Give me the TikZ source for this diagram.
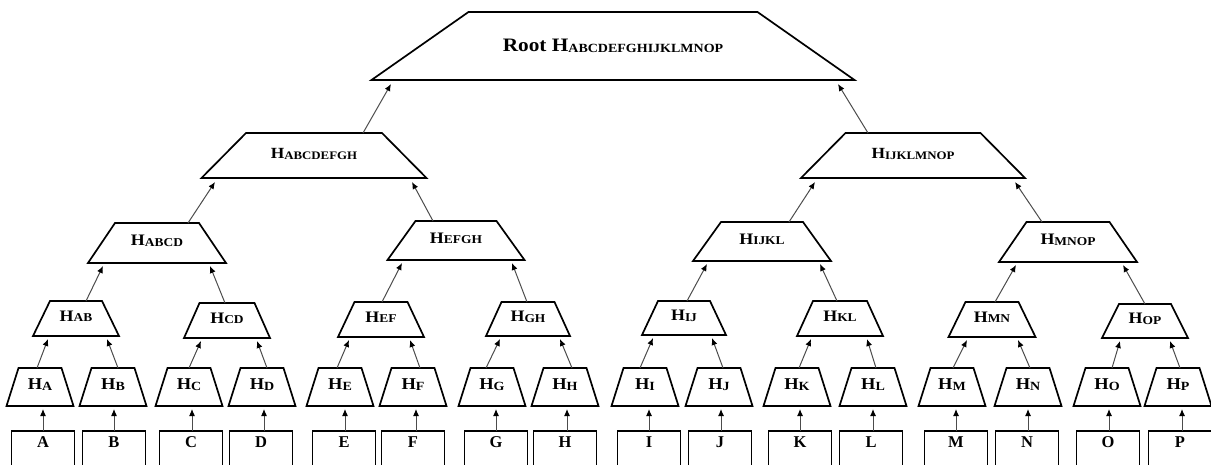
\documentclass[tikz,border=0pt]{standalone}
\usepackage{fontspec}
\setmainfont{Liberation Serif}
\usepackage{graphicx}
\usetikzlibrary{arrows.meta}
\newcommand\hlab[3]{\scalebox{1.12}[1]{\bfseries\fontsize{#2}{#2}\selectfont H\raisebox{-0.6pt}{\fontsize{#3}{#3}\selectfont #1}}}
\newcommand\trap[8][]{%
  \pgfmathsetmacro\qa{#3-#6/2}\pgfmathsetmacro\qb{#3+#6/2}%
  \pgfmathsetmacro\qc{#3-#7/2}\pgfmathsetmacro\qd{#3+#7/2}%
  \pgfmathsetmacro\qm{(#4+#5)/2}\pgfmathsetmacro\qh{#5-#4}%
  \draw[trapline] (\qc,#5) -- (\qd,#5) -- (\qb,#4) -- (\qa,#4) -- cycle;
  \node[tnode, minimum width=#7 pt, minimum height=\qh pt, #1] (#2) at (#3,\qm) {#8};}
\begin{document}
\begin{tikzpicture}[x=1pt,y=-1pt,
  trapline/.style={draw=black, line width=1.7pt, line join=miter},
  tnode/.style={inner sep=0pt, outer sep=0pt, text height=11pt, text depth=6pt, font=\bfseries},
  box/.style={draw=black, line width=1.7pt, minimum width=63pt, minimum height=36pt, anchor=north,
    inner sep=0pt, outer sep=0pt, text height=11pt, text depth=14pt,
    font=\bfseries\fontsize{16.5}{16.5}\selectfont},
  conn/.style={draw=black!70, line width=1pt, -{Latex[length=7pt,width=6pt,color=black]}}]
\useasboundingbox (0,0) rectangle (1211,464);
\clip (0,0) rectangle (1211,464);

% root
\trap[text height=13pt, text depth=2pt]{root}{613}{12}{80}{289}{483}{\scalebox{1.12}[1]{\bfseries\fontsize{19}{19}\selectfont Root H\raisebox{-0.6pt}{\fontsize{12.5}{12.5}\selectfont ABCDEFGHIJKLMNOP}}}
% level 2
\trap[text depth=5pt]{h2a}{314}{133}{178}{136}{225}{\hlab{ABCDEFGH}{15.5}{11.5}}
\trap[text depth=5pt]{h2b}{913}{133}{178}{135}{224}{\hlab{IJKLMNOP}{15.5}{11.5}}
% level 3
\trap{habcd}{157}{223}{263}{84}{138}{\hlab{ABCD}{16}{12}}
\trap{hefgh}{456}{221}{260}{81}{137}{\hlab{EFGH}{16}{12}}
\trap{hijkl}{762}{222}{261}{82}{138}{\hlab{IJKL}{16}{12}}
\trap{hmnop}{1068}{222}{262}{83}{138}{\hlab{MNOP}{16}{12}}
% level 4
\trap{hab}{76}{301}{336}{52}{86}{\hlab{AB}{16}{12}}
\trap{hcd}{227}{303}{338}{55}{86}{\hlab{CD}{16}{12}}
\trap{hef}{381}{302}{337}{53}{86}{\hlab{EF}{16}{12}}
\trap{hgh}{528}{302}{336}{53}{84}{\hlab{GH}{16}{12}}
\trap{hij}{684}{301}{335}{52}{84}{\hlab{IJ}{16}{12}}
\trap{hkl}{840}{301}{336}{54}{86}{\hlab{KL}{16}{12}}
\trap{hmn}{992}{302}{337}{53}{87}{\hlab{MN}{16}{12}}
\trap{hop}{1145}{304}{338}{52}{86}{\hlab{OP}{16}{12}}
% leaf hashes
\trap{ha}{40}{368}{406}{43}{67}{\hlab{A}{16.5}{12.5}}
\trap{hb}{113}{368}{406}{43}{67}{\hlab{B}{16.5}{12.5}}
\trap{hc}{189}{368}{406}{43}{67}{\hlab{C}{16.5}{12.5}}
\trap{hd}{262}{368}{406}{43}{67}{\hlab{D}{16.5}{12.5}}
\trap{he}{340}{368}{406}{43}{67}{\hlab{E}{16.5}{12.5}}
\trap{hf}{413}{368}{406}{43}{67}{\hlab{F}{16.5}{12.5}}
\trap{hg}{492}{368}{406}{43}{67}{\hlab{G}{16.5}{12.5}}
\trap{hh}{565}{368}{406}{43}{67}{\hlab{H}{16.5}{12.5}}
\trap{hi}{645}{368}{406}{43}{67}{\hlab{I}{16.5}{12.5}}
\trap{hj}{719}{368}{406}{43}{67}{\hlab{J}{16.5}{12.5}}
\trap{hk}{797}{368}{406}{43}{67}{\hlab{K}{16.5}{12.5}}
\trap{hl}{873}{368}{406}{43}{67}{\hlab{L}{16.5}{12.5}}
\trap{hm}{952}{368}{406}{43}{67}{\hlab{M}{16.5}{12.5}}
\trap{hn}{1028}{368}{406}{43}{67}{\hlab{N}{16.5}{12.5}}
\trap{ho}{1107}{368}{406}{43}{67}{\hlab{O}{16.5}{12.5}}
\trap{hp}{1178}{368}{406}{43}{67}{\hlab{P}{16.5}{12.5}}

% data blocks
\node[box] (bA) at (43,431) {A};
\node[box] (bB) at (114,431) {B};
\node[box] (bC) at (191,431) {C};
\node[box] (bD) at (261,431) {D};
\node[box] (bE) at (344,431) {E};
\node[box] (bF) at (413,431) {F};
\node[box] (bG) at (496,431) {G};
\node[box] (bH) at (565,431) {H};
\node[box] (bI) at (649,431) {I};
\node[box] (bJ) at (720,431) {J};
\node[box] (bK) at (800,431) {K};
\node[box] (bL) at (871,431) {L};
\node[box] (bM) at (956,431) {M};
\node[box] (bN) at (1027,431) {N};
\node[box] (bO) at (1108,431) {O};
\node[box] (bP) at (1180,431) {P};

% connectors: data -> leaf hash
\draw[conn] (bA.north) -- ([xshift=3pt,yshift=-3pt]ha.south);
\draw[conn] (bB.north) -- ([xshift=1pt,yshift=-3pt]hb.south);
\draw[conn] ([xshift=1pt]bC.north) -- ([xshift=3pt,yshift=-3pt]hc.south);
\draw[conn] ([xshift=3pt]bD.north) -- ([xshift=2pt,yshift=-3pt]hd.south);
\draw[conn] ([xshift=1pt]bE.north) -- ([xshift=5pt,yshift=-3pt]he.south);
\draw[conn] ([xshift=3pt]bF.north) -- ([xshift=3pt,yshift=-3pt]hf.south);
\draw[conn] (bG.north) -- ([xshift=4pt,yshift=-3pt]hg.south);
\draw[conn] ([xshift=2pt]bH.north) -- ([xshift=2pt,yshift=-3pt]hh.south);
\draw[conn] (bI.north) -- ([xshift=4pt,yshift=-3pt]hi.south);
\draw[conn] ([xshift=1pt]bJ.north) -- ([xshift=2pt,yshift=-3pt]hj.south);
\draw[conn] (bK.north) -- ([xshift=3pt,yshift=-3pt]hk.south);
\draw[conn] ([xshift=2pt]bL.north) -- ([yshift=-3pt]hl.south);
\draw[conn] (bM.north) -- ([xshift=4pt,yshift=-3pt]hm.south);
\draw[conn] ([xshift=1pt]bN.north) -- ([yshift=-3pt]hn.south);
\draw[conn] ([xshift=1pt]bO.north) -- ([xshift=2pt,yshift=-3pt]ho.south);
\draw[conn] ([xshift=2pt]bP.north) -- ([xshift=4pt,yshift=-3pt]hp.south);

% leaf hash -> pair hash
\draw[conn] ([xshift=-3pt]ha.north) -- ([xshift=-28pt,yshift=-3pt]hab.south);
\draw[conn] ([xshift=5pt]hb.north) -- ([xshift=31pt,yshift=-3pt]hab.south);
\draw[conn] (hc.north) -- ([xshift=-26pt,yshift=-3pt]hcd.south);
\draw[conn] ([xshift=5pt]hd.north) -- ([xshift=30pt,yshift=-3pt]hcd.south);
\draw[conn] ([xshift=-3pt]he.north) -- ([xshift=-32pt,yshift=-3pt]hef.south);
\draw[conn] ([xshift=7pt]hf.north) -- ([xshift=29pt,yshift=-3pt]hef.south);
\draw[conn] ([xshift=-6pt]hg.north) -- ([xshift=-28pt,yshift=-3pt]hgh.south);
\draw[conn] ([xshift=7pt]hh.north) -- ([xshift=32pt,yshift=-3pt]hgh.south);
\draw[conn] ([xshift=-5pt]hi.north) -- ([xshift=-31pt,yshift=-3pt]hij.south);
\draw[conn] ([xshift=4pt]hj.north) -- ([xshift=28pt,yshift=-3pt]hij.south);
\draw[conn] ([xshift=2pt]hk.north) -- ([xshift=-29pt,yshift=-3pt]hkl.south);
\draw[conn] ([xshift=3pt]hl.north) -- ([xshift=27pt,yshift=-3pt]hkl.south);
\draw[conn] ([xshift=1pt]hm.north) -- ([xshift=-25pt,yshift=-3pt]hmn.south);
\draw[conn] ([xshift=2pt]hn.north) -- ([xshift=26pt,yshift=-3pt]hmn.south);
\draw[conn] ([xshift=5pt]ho.north) -- ([xshift=-25pt,yshift=-3pt]hop.south);
\draw[conn] ([xshift=2pt]hp.north) -- ([xshift=25pt,yshift=-3pt]hop.south);

% pair -> quad
\draw[conn] ([xshift=10pt]hab.north) -- ([xshift=-54pt,yshift=-3pt]habcd.south);
\draw[conn] ([xshift=-2pt]hcd.north) -- ([xshift=53pt,yshift=-3pt]habcd.south);
\draw[conn] ([xshift=1pt]hef.north) -- ([xshift=-54pt,yshift=-3pt]hefgh.south);
\draw[conn] ([xshift=-1pt]hgh.north) -- ([xshift=56pt,yshift=-3pt]hefgh.south);
\draw[conn] ([xshift=3pt]hij.north) -- ([xshift=-55pt,yshift=-3pt]hijkl.south);
\draw[conn] ([xshift=-3pt]hkl.north) -- ([xshift=58pt,yshift=-3pt]hijkl.south);
\draw[conn] ([xshift=3pt]hmn.north) -- ([xshift=-52pt,yshift=-3pt]hmnop.south);
\draw[conn] (hop.north) -- ([xshift=55pt,yshift=-3pt]hmnop.south);

% quad -> half
\draw[conn] ([xshift=31pt]habcd.north) -- ([xshift=-99pt,yshift=-4pt]h2a.south);
\draw[conn] ([xshift=-23pt]hefgh.north) -- ([xshift=98pt,yshift=-4pt]h2a.south);
\draw[conn] ([xshift=27pt]hijkl.north) -- ([xshift=-98pt,yshift=-4pt]h2b.south);
\draw[conn] ([xshift=-26pt]hmnop.north) -- ([xshift=102pt,yshift=-4pt]h2b.south);

% half -> root
\draw[conn] ([xshift=49pt]h2a.north) -- ([xshift=-222pt,yshift=-4pt]root.south);
\draw[conn] ([xshift=-45pt]h2b.north) -- ([xshift=225pt,yshift=-4pt]root.south);
\end{tikzpicture}
\end{document}
